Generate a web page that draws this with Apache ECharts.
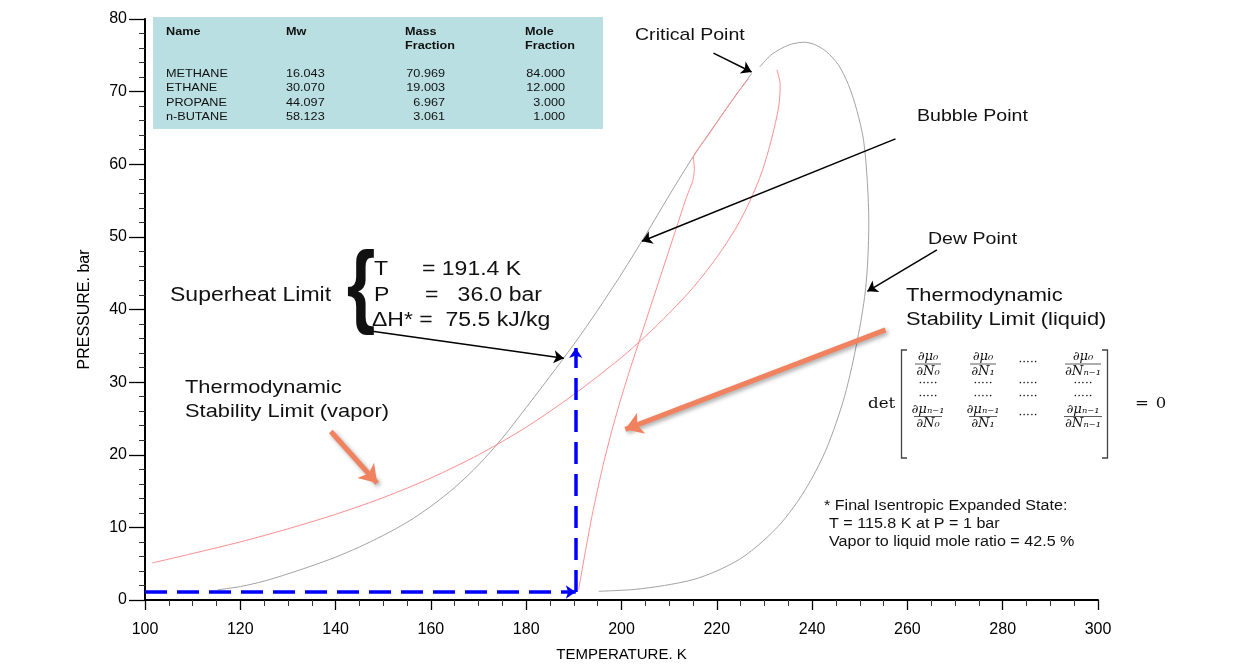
<!DOCTYPE html>
<html><head><meta charset="utf-8">
<script src="https://cdn.jsdelivr.net/npm/echarts@6/dist/echarts.min.js"></script>
<style>html,body{margin:0;padding:0;background:#fff}#c{width:1246px;height:666px}</style>
</head><body><div id="c"></div>
<script>
// ---- data (T in K, P in bar) ----
const bubbleCurve = [[115.2,1.4],[120,1.85],[125,2.6],[130,3.6],[135,4.7],[140,5.9],[145,7.3],[150,8.9],[155,10.7],[160,12.9],[165,15.5],[170,18.6],[175,22.3],[180,26.5],[185,30.8],[190,35.2],[195,39.9],[200,44.9],[205,50.2],[210,55.7],[215,61.0],[220,65.8],[224,69.5],[227.3,72.5]];
const dewCurve = [[229,73.4],[231.3,75.0],[233.7,76.0],[236,76.6],[238.2,76.8],[240.5,76.5],[243,75.5],[245.5,73.7],[247.6,71.0],[249.4,67.4],[250.8,63.3],[251.6,57.5],[251.9,52],[251.7,47],[251.2,42.7],[250.4,39],[249.5,35.8],[248.3,32],[246.8,28],[245,24.3],[242.8,20.5],[240,16.8],[237,13.6],[233.5,10.6],[229.5,8.0],[225,5.7],[220,4.0],[215,2.8],[209,2.0],[202.6,1.45],[195.2,1.2]];
const vaporSpinodal = [[101.5,5.1],[110,6.4],[120,8.0],[130,9.8],[140,11.8],[150,14.1],[160,16.8],[170,20.0],[180,23.8],[190,28.3],[200,33.4],[205,36.3],[210,39.5],[215,43.0],[220,47.2],[224,51.2],[227,55.0],[229.5,59],[231.5,63.5],[233,68],[233.3,71],[232.6,73]];
const liquidSpinodal = [[191,1.4],[192.5,7.0],[194,12.2],[196,18.2],[198,23.4],[200,28.0],[202,32.2],[205,38.2],[208,44.2],[211,50.2],[213.5,55.2],[215,57.8],[215.3,59.3],[215.1,61],[218,63.8],[220.8,66.5],[224.3,69.8],[226.7,71.8]];
const expansionH = [[100,1.1],[190.4,1.1]];
const expansionV = [[190.4,1.1],[190.4,34.7]];
const blackArrows = [
  [[219.3,75.3],[227.3,72.7]],   // critical point
  [[257.5,63.5],[204.3,49.4]],   // bubble point
  [[266.2,48.2],[251.6,42.5]],   // dew point
  [[147.7,37.0],[187.9,33.3]]    // superheat limit
];
const orangeArrows = [
  [[255.4,37.2],[200.8,23.5]],   // liquid stability limit
  [[139.0,23.2],[148.7,16.1]]    // vapor stability limit
];
const xTicks = {min:100, max:300, step:20};
const yTicks = {min:0, max:80, step:10};
const compNames = ['METHANE','ETHANE','PROPANE','n-BUTANE'];
const compMw = ['16.043','30.070','44.097','58.123'];
const compMass = ['70.969','19.003','6.967','3.061'];
const compMole = ['84.000','12.000','3.000','1.000'];

const SANS = 'Liberation Sans, Arial, Helvetica, sans-serif';
const SERIF = 'DejaVu Serif, Liberation Serif, serif';
const SX = 1.15;
function txt(text, x, y, size, o) {
  o = o || {};
  return {type:'text', x:x, y:y, scaleX: o.sx || SX, z:50, silent:true,
    style:{text:text, fontSize:size, fontFamily:o.family||SANS, fontWeight:o.weight||'normal',
      fontStyle:o.style||'normal', fill:o.fill||'#111',
      textAlign:o.align||'left', align:o.align||'left',
      textVerticalAlign:'middle', verticalAlign:'middle'}};
}
function seg(x1,y1,x2,y2,w){return {type:'line',z:50,silent:true,shape:{x1:x1,y1:y1,x2:x2,y2:y2},style:{stroke:'#333',lineWidth:w||0.8}};}

const G = [];
// composition table
G.push({type:'rect', z:40, silent:true, shape:{x:153,y:17,width:450,height:112}, style:{fill:'#b9dfe2'}});
G.push(txt('Name',166,31.5,11,{weight:'bold'}));
G.push(txt('Mw',286,31.5,11,{weight:'bold'}));
G.push(txt('Mass',405,31.5,11,{weight:'bold'}));
G.push(txt('Fraction',405,45.5,11,{weight:'bold'}));
G.push(txt('Mole',525,31.5,11,{weight:'bold'}));
G.push(txt('Fraction',525,45.5,11,{weight:'bold'}));
const rowY = [74.3,88.3,102.5,116.7];
for (let i=0;i<compNames.length;i++){
  G.push(txt(compNames[i],166,rowY[i],11));
  G.push(txt(compMw[i],286,rowY[i],11));
  G.push(txt(compMass[i],445,rowY[i],11,{align:'right'}));
  G.push(txt(compMole[i],565,rowY[i],11,{align:'right'}));
}
// annotations
G.push(txt('Critical Point',635,35,17));
G.push(txt('Bubble Point',917,116,17));
G.push(txt('Dew Point',928,239,17));
G.push(txt('Thermodynamic',906,296,19));
G.push(txt('Stability Limit (liquid)',906,320,19));
G.push(txt('Thermodynamic',185,388,19));
G.push(txt('Stability Limit (vapor)',185,412,19));
G.push(txt('Superheat Limit',170,295,20));
G.push(txt('{',361,291,92,{sx:0.8,align:'center',weight:'bold'}));
G.push(txt('T',374,269,20));
G.push(txt('= 191.4 K',422,269,20));
G.push(txt('P',374,295,20));
G.push(txt('=   36.0 bar',425,295,20));
G.push(txt('\u0394H* =  75.5 kJ/kg',372,320,20));
G.push(txt('* Final Isentropic Expanded State:',824,506,14));
G.push(txt('T = 115.8 K at P = 1 bar',829,524,14));
G.push(txt('Vapor to liquid mole ratio = 42.5 %',829,542,14));
// determinant
G.push(txt('det',868,404,14.5,{family:SERIF}));
G.push({type:'polyline',z:50,silent:true,shape:{points:[[907,350],[901.5,350],[901.5,458],[907,458]]},style:{stroke:'#444',fill:null,lineWidth:1.3}});
G.push({type:'polyline',z:50,silent:true,shape:{points:[[1102,350],[1107.5,350],[1107.5,458],[1102,458]]},style:{stroke:'#444',fill:null,lineWidth:1.3}});
const colX = [928,983,1028,1083];
const nums1 = ['\u2202\u03bc\u2080','\u2202\u03bc\u2080',null,'\u2202\u03bc\u2080'];
const nums4 = ['\u2202\u03bc\u2099\u208b\u2081','\u2202\u03bc\u2099\u208b\u2081',null,'\u2202\u03bc\u2099\u208b\u2081'];
const dens = ['\u2202N\u2080','\u2202N\u2081',null,'\u2202N\u2099\u208b\u2081'];
const halfW = [13,13,0,18];
const dots = '\u00b7\u00b7\u00b7\u00b7\u00b7';
const FS = 12;
for (let c=0;c<4;c++){
  const cx = colX[c];
  if (nums1[c]) {
    G.push(txt(nums1[c],cx,357,FS,{family:SERIF,style:'italic',align:'center',sx:1.1}));
    G.push(seg(cx-halfW[c],364,cx+halfW[c],364));
    G.push(txt(dens[c],cx,371.5,FS,{family:SERIF,style:'italic',align:'center',sx:1.1}));
    G.push(txt(nums4[c],cx,410,FS,{family:SERIF,style:'italic',align:'center',sx:1.1}));
    G.push(seg(cx-halfW[c]-1,416.5,cx+halfW[c]+1,416.5));
    G.push(txt(dens[c],cx,424,FS,{family:SERIF,style:'italic',align:'center',sx:1.1}));
  } else {
    G.push(txt(dots,cx,363,11,{family:SERIF,align:'center',sx:1.1}));
    G.push(txt(dots,cx,416,11,{family:SERIF,align:'center',sx:1.1}));
  }
  G.push(txt(dots,cx,384,11,{family:SERIF,align:'center',sx:1.1}));
  G.push(txt(dots,cx,397,11,{family:SERIF,align:'center',sx:1.1}));
}
G.push(txt('=',1142,404,15,{family:SERIF,align:'center',sx:1.1}));
G.push(txt('0',1161,404,15,{family:SERIF,align:'center',sx:1.1}));

const chart = echarts.init(document.getElementById('c'), null, {renderer:'canvas'});
chart.setOption({
  animation:false,
  backgroundColor:'#fff',
  grid:{left:145, right:148, top:19, bottom:66, containLabel:false, outerBoundsMode:'none'},
  xAxis: {
    type:'value', min:xTicks.min, max:xTicks.max, interval:xTicks.step,
    axisLine:{show:true, lineStyle:{color:'#000', width:2}},
    splitLine:{show:false},
    axisTick:{show:true, length:10, lineStyle:{color:'#000', width:1.3}},
    minorTick:{show:true, splitNumber:4, length:6, lineStyle:{color:'#333', width:1}},
    axisLabel:{color:'#000', fontSize:16, fontFamily:SANS, margin:22},
    name:'TEMPERATURE. K', nameLocation:'middle', nameGap:47,
    nameTextStyle:{color:'#000', fontSize:15, fontFamily:SANS}
  },
  yAxis: {
    type:'value', min:yTicks.min, max:yTicks.max, interval:yTicks.step,
    axisLine:{show:true, lineStyle:{color:'#000', width:2}},
    splitLine:{show:false},
    axisTick:{show:true, length:16, lineStyle:{color:'#000', width:1.3}},
    minorTick:{show:true, splitNumber:5, length:6, lineStyle:{color:'#333', width:1}},
    axisLabel:{color:'#000', fontSize:16, fontFamily:SANS, margin:18},
    name:'PRESSURE. bar', nameLocation:'middle', nameGap:52,
    nameTextStyle:{color:'#000', fontSize:16, fontFamily:SANS}
  },
  series:[
    {type:'line', name:'bubble', data:bubbleCurve, showSymbol:false, smooth:0.3, lineStyle:{color:'#a3a3a3', width:1}, z:2},
    {type:'line', name:'dew', data:dewCurve, showSymbol:false, smooth:0.3, lineStyle:{color:'#a3a3a3', width:1}, z:2},
    {type:'line', name:'vapor spinodal', data:vaporSpinodal, showSymbol:false, smooth:0.3, lineStyle:{color:'#ff8f8f', width:1}, z:3},
    {type:'line', name:'liquid spinodal', data:liquidSpinodal, showSymbol:false, smooth:0.15, lineStyle:{color:'#ff8f8f', width:1}, z:3},
    {type:'lines', coordinateSystem:'cartesian2d', silent:true, z:4,
      symbol:['none','arrow'], symbolSize:10,
      lineStyle:{color:'#0000ff', width:3.5, opacity:1, type:[22,10]},
      data:[{coords:expansionH},{coords:expansionV}]},
    {type:'lines', coordinateSystem:'cartesian2d', silent:true, z:5,
      symbol:['none','arrow'], symbolSize:10,
      lineStyle:{color:'#000', width:1.5, opacity:1},
      data:blackArrows.map(a=>({coords:a}))},
    {type:'lines', coordinateSystem:'cartesian2d', silent:true, z:6,
      symbol:['none','arrow'], symbolSize:17,
      lineStyle:{color:'#f0825f', width:5, opacity:1, shadowBlur:4, shadowColor:'rgba(0,0,0,0.35)', shadowOffsetX:2, shadowOffsetY:2},
      data:orangeArrows.map(a=>({coords:a}))}
  ],
  graphic: G
});
</script></body></html>
